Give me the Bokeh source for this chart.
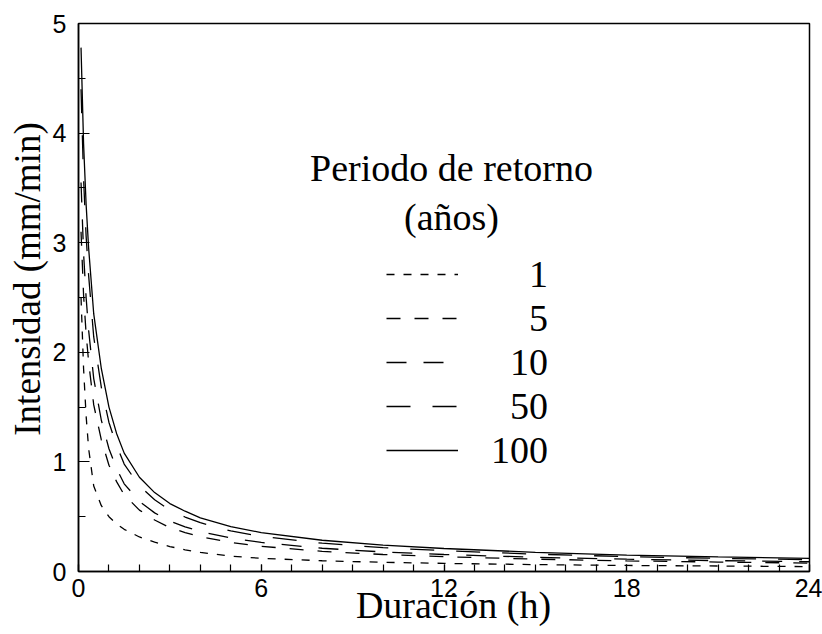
from bokeh.plotting import figure
from bokeh.models import Range1d, FixedTicker, Legend, LegendItem, Label
from bokeh.embed import file_html
from bokeh.resources import INLINE

# Duration (h)
duracion = [0.083, 0.167, 0.25, 0.333, 0.5, 0.75, 1, 1.25, 1.5, 2, 2.5, 3, 3.5, 4, 5, 6, 8, 10, 12, 15, 18, 21, 24]
# Intensity (mm/min) for each return period
i_1 = [2.50, 1.85, 1.42, 1.12, 0.78, 0.60, 0.50, 0.435, 0.385, 0.315, 0.268, 0.228, 0.198, 0.175, 0.14, 0.12, 0.098, 0.084, 0.074, 0.063, 0.055, 0.05, 0.045]
i_5 = [3.10, 2.52, 2.17, 1.91, 1.52, 1.20, 0.97, 0.82, 0.70, 0.56, 0.47, 0.40, 0.355, 0.318, 0.265, 0.23, 0.184, 0.155, 0.135, 0.113, 0.097, 0.086, 0.077]
i_10 = [3.55, 2.90, 2.50, 2.20, 1.76, 1.38, 1.12, 0.94, 0.80, 0.64, 0.535, 0.46, 0.408, 0.365, 0.305, 0.265, 0.212, 0.178, 0.155, 0.13, 0.112, 0.099, 0.089]
i_50 = [4.40, 3.58, 3.06, 2.70, 2.14, 1.68, 1.36, 1.15, 0.98, 0.78, 0.655, 0.56, 0.497, 0.445, 0.37, 0.32, 0.258, 0.217, 0.19, 0.158, 0.136, 0.12, 0.108]
i_100 = [4.78, 3.90, 3.35, 2.95, 2.35, 1.85, 1.50, 1.26, 1.08, 0.86, 0.72, 0.62, 0.55, 0.49, 0.41, 0.355, 0.285, 0.24, 0.21, 0.175, 0.15, 0.133, 0.12]
periodos = ["1", "5", "10", "50", "100"]
series = [i_1, i_5, i_10, i_50, i_100]
dashes = ["8 9", "14 14", "20 17", "24 22", "solid"]

x_ticks = [0, 6, 12, 18, 24]
y_ticks = [0, 1, 2, 3, 4, 5]

p = figure(width=822, height=634, title=None,
           x_range=Range1d(0, 24), y_range=Range1d(0, 5),
           output_backend="svg", toolbar_location=None,
           min_border_left=78, min_border_right=13, min_border_top=23, min_border_bottom=63)
p.background_fill_color = "white"
p.border_fill_color = "white"
p.outline_line_color = "black"
p.outline_line_width = 1.5
p.grid.visible = False

serif = "Liberation Serif"
nb = "\u00a0"

p.xaxis.ticker = FixedTicker(ticks=x_ticks, minor_ticks=list(range(0, 25)))
p.yaxis.ticker = FixedTicker(ticks=y_ticks, minor_ticks=[k * 0.5 for k in range(11)])
for ax in (p.xaxis, p.yaxis):
    ax.axis_line_color = "black"
    ax.axis_line_width = 1.5
    ax.major_tick_out = 0
    ax.minor_tick_out = 0
    ax.major_tick_line_color = "black"
    ax.minor_tick_line_color = "black"
    ax.major_tick_line_width = 1.2
    ax.minor_tick_line_width = 1.2
    ax.major_label_text_font = "Liberation Sans"
    ax.major_label_text_font_size = "25px"
    ax.major_label_text_color = "black"
    ax.axis_label_text_font = serif
    ax.axis_label_text_font_style = "normal"
    ax.axis_label_text_color = "black"
p.xaxis.major_tick_in = 7
p.xaxis.minor_tick_in = 7
p.yaxis.major_tick_in = 11
p.yaxis.minor_tick_in = 7
p.xaxis.major_label_standoff = 7
p.yaxis.major_label_standoff = 12

p.xaxis.axis_label = nb * 2 + "Duración (h)"
p.xaxis.axis_label_text_font_size = "38px"
p.xaxis.axis_label_standoff = -16
p.yaxis.axis_label = nb * 4 + "Intensidad (mm/min)"
p.yaxis.axis_label_text_font_size = "37px"
p.yaxis.axis_label_standoff = 2

renderers = []
for vals, dash in zip(series, dashes):
    r = p.line(duracion, vals, line_color="black", line_width=1.3, line_dash=dash)
    renderers.append(r)

items = []
for lab, r in zip(periodos, renderers):
    padded = nb * (2 * (3 - len(lab))) + lab
    items.append(LegendItem(label=padded, renderers=[r]))

legend = Legend(items=items, location=(308, 99), glyph_width=72, glyph_height=30,
                label_standoff=33, spacing=0, padding=0, margin=0,
                border_line_color=None, background_fill_alpha=0,
                label_text_font=serif, label_text_font_size="38px",
                label_text_color="black", label_height=30)
p.add_layout(legend)

p.add_layout(Label(x=373, y=404, x_units="screen", y_units="screen", text="Periodo de retorno",
                   text_font=serif, text_font_size="38px", text_color="black",
                   text_align="center", text_baseline="middle"))
p.add_layout(Label(x=373, y=355, x_units="screen", y_units="screen", text="(años)",
                   text_font=serif, text_font_size="38px", text_color="black",
                   text_align="center", text_baseline="middle"))

open("out.html", "w").write(file_html(p, INLINE))
